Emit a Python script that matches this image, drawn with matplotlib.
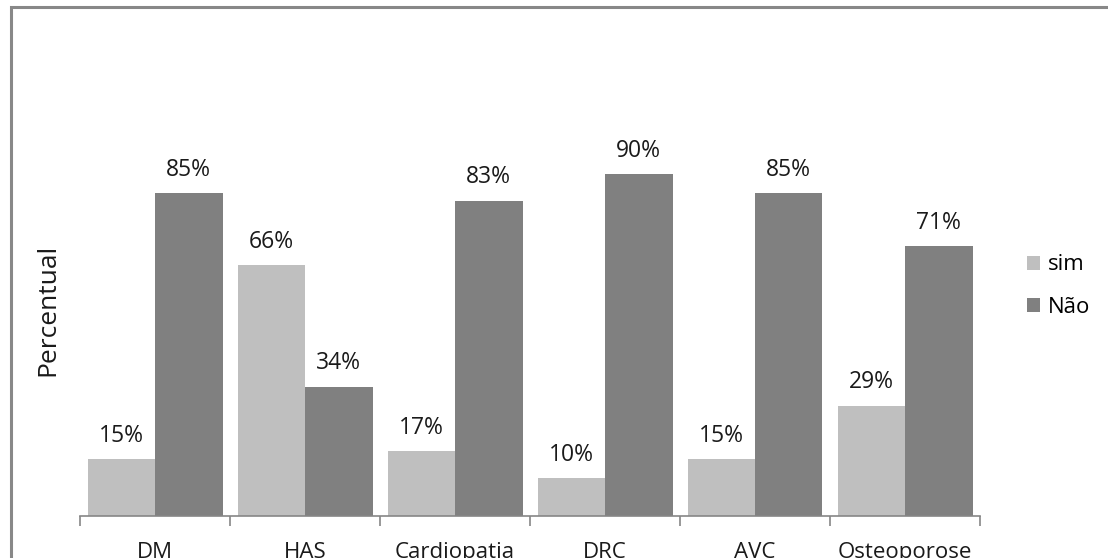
import matplotlib.pyplot as plt
import numpy as np
from matplotlib.patches import Rectangle

plt.rcParams["font.family"] = ["Open Sans", "DejaVu Sans"]

categorias = ["DM", "HAS", "Cardiopatia", "DRC", "AVC", "Osteoporose"]
sim = [15, 66, 17, 10, 15, 29]
nao = [85, 34, 83, 90, 85, 71]

cor_sim = "#bfbfbf"
cor_nao = "#808080"
cor_texto = "#1a1a1a"
cor_eixo = "#868686"

W, H = 1108, 558
fig = plt.figure(figsize=(W / 100, H / 100), dpi=100)
ax = fig.add_axes([80 / W, (H - 516) / H, 900 / W, 380 / H])

x = np.arange(len(categorias))
largura = 0.45
b1 = ax.bar(x - largura / 2, sim, largura, color=cor_sim, label="sim")
b2 = ax.bar(x + largura / 2, nao, largura, color=cor_nao, label="Não")

for barras, valores in ((b1, sim), (b2, nao)):
    for barra, v in zip(barras, valores):
        ax.annotate(f"{v}%", (barra.get_x() + barra.get_width() / 2, v),
                    xytext=(0, 12.5), textcoords="offset points",
                    ha="center", va="baseline", fontsize=16.5, color=cor_texto)

ax.set_xlim(-0.5, len(categorias) - 0.5)
ax.set_ylim(0, 100)

# ticks nas divisas entre grupos, rotulos no centro
ax.set_xticks(np.arange(len(categorias) + 1) - 0.5)
ax.set_xticklabels([])
ax.set_xticks(x, minor=True)
ax.set_xticklabels(categorias, minor=True, fontsize=16, color=cor_texto)
ax.tick_params(axis="x", which="major", length=7, width=1.2, color=cor_eixo, direction="out")
ax.tick_params(axis="x", which="minor", length=0, pad=19)
ax.set_yticks([])

for lado in ("top", "right", "left"):
    ax.spines[lado].set_visible(False)
ax.spines["bottom"].set_color(cor_eixo)
ax.spines["bottom"].set_linewidth(1.2)

ax.set_ylabel("Percentual", fontsize=19, color=cor_texto, labelpad=0)
ax.yaxis.set_label_coords(-20 / 900, 0.5 - (310 - 326) / 380)

ax.legend(loc="center left", bbox_to_anchor=(1027 / W, 1 - 286 / H),
          bbox_transform=fig.transFigure, frameon=False, fontsize=16,
          handlelength=0.6, handleheight=0.6, handletextpad=0.35,
          labelspacing=0.95, borderaxespad=0, borderpad=0)

# moldura do grafico
fig.add_artist(Rectangle((10.5 / W, -0.1), 1.2, 1 - 7.5 / H + 0.1,
                         transform=fig.transFigure, fill=False,
                         edgecolor="#888888", linewidth=2.2, clip_on=False))

fig.savefig("out.png", dpi=100, facecolor="white")
